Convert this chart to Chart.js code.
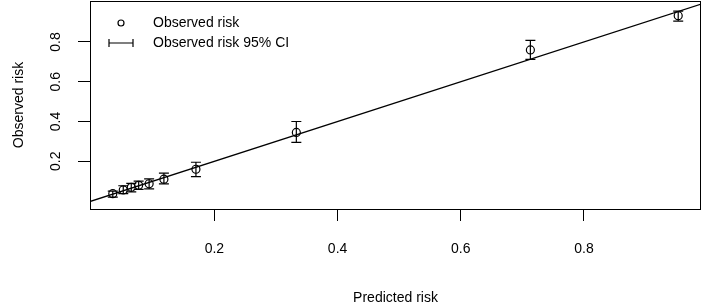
<!DOCTYPE html>
<html>
<head>
<meta charset="utf-8">
<script src="https://cdn.jsdelivr.net/npm/chart.js@4"></script>
<style>
  html, body { margin: 0; padding: 0; background: #fff; }
  #wrap { width: 702px; height: 304px; }
</style>
</head>
<body>
<div id="wrap"><canvas id="calib" width="702" height="304"></canvas></div>
<script>
// calibration data
const predicted = [0.035, 0.052, 0.065, 0.077, 0.094, 0.118, 0.170, 0.333, 0.713, 0.953];
const observed  = [0.037, 0.056, 0.069, 0.079, 0.087, 0.110, 0.160, 0.345, 0.760, 0.932];
const ciLower   = [0.020, 0.037, 0.046, 0.059, 0.061, 0.086, 0.123, 0.295, 0.712, 0.905];
const ciUpper   = [0.050, 0.077, 0.089, 0.100, 0.111, 0.140, 0.195, 0.400, 0.808, 0.955];
const xTicks = [0.2, 0.4, 0.6, 0.8];
const yTicks = [0.2, 0.4, 0.6, 0.8];
const refLine = [-0.1, 1.1];

const FONT = "'Liberation Sans', Arial, sans-serif";

const points = predicted.map((p, i) => ({ x: p, y: observed[i] }));

function noPad(s) {
    s.paddingLeft = 0; s.paddingRight = 0;
    s.paddingTop = 0; s.paddingBottom = 0;
}

const errorBars = {
    id: 'errorBars',
    afterDatasetsDraw(chart) {
        const { ctx, scales: { x, y }, chartArea } = chart;
        ctx.save();
        ctx.strokeStyle = '#000';
        ctx.lineWidth = 1.2;
        predicted.forEach((p, i) => {
            const px = x.getPixelForValue(p);
            const lo = y.getPixelForValue(ciLower[i]);
            const hi = y.getPixelForValue(ciUpper[i]);
            ctx.beginPath();
            ctx.moveTo(px, lo); ctx.lineTo(px, hi);
            ctx.moveTo(px - 5, lo); ctx.lineTo(px + 5, lo);
            ctx.moveTo(px - 5, hi); ctx.lineTo(px + 5, hi);
            ctx.stroke();
        });
        // box around the plot
        ctx.lineWidth = 1;
        ctx.strokeRect(Math.round(chartArea.left) + 0.5, Math.round(chartArea.top) + 0.5,
            Math.round(chartArea.right - chartArea.left) - 1, Math.round(chartArea.bottom - chartArea.top));

        // rotated y tick labels
        ctx.fillStyle = '#000';
        ctx.font = '14px ' + FONT;
        ctx.textAlign = 'center';
        ctx.textBaseline = 'middle';
        yTicks.forEach(v => {
            ctx.save();
            ctx.translate(56, y.getPixelForValue(v));
            ctx.rotate(-Math.PI / 2);
            ctx.fillText(v.toFixed(1), 0, 0);
            ctx.restore();
        });

        // legend inside the plot
        const lx = chartArea.left + 31, ly1 = chartArea.top + 22, ly2 = chartArea.top + 42;
        ctx.lineWidth = 1.2;
        ctx.beginPath();
        ctx.arc(lx, ly1, 3, 0, Math.PI * 2);
        ctx.stroke();
        ctx.beginPath();
        ctx.moveTo(lx - 12, ly2); ctx.lineTo(lx + 12, ly2);
        ctx.moveTo(lx - 12, ly2 - 4); ctx.lineTo(lx - 12, ly2 + 4);
        ctx.moveTo(lx + 12, ly2 - 4); ctx.lineTo(lx + 12, ly2 + 4);
        ctx.stroke();
        ctx.textAlign = 'left';
        ctx.fillText('Observed risk', chartArea.left + 63, ly1);
        ctx.fillText('Observed risk 95% CI', chartArea.left + 63, ly2);
        ctx.restore();
    }
};

new Chart(document.getElementById('calib'), {
    type: 'scatter',
    data: {
        datasets: [
            {
                label: 'Observed risk',
                data: points,
                pointStyle: 'circle',
                pointRadius: 4,
                borderColor: '#000',
                backgroundColor: 'rgba(0,0,0,0)',
                borderWidth: 1.2
            },
            {
                type: 'line',
                label: 'Reference',
                data: refLine.map(v => ({ x: v, y: v })),
                borderColor: '#000',
                borderWidth: 1.3,
                pointRadius: 0,
                fill: false
            }
        ]
    },
    options: {
        responsive: false,
        animation: false,
        layout: { autoPadding: false, padding: { top: 1, right: 1, left: 0, bottom: 0 } },
        plugins: { legend: { display: false }, tooltip: { enabled: false } },
        scales: {
            x: {
                type: 'linear',
                min: -0.002,
                max: 0.99,
                afterBuildTicks: s => { s.ticks = xTicks.map(v => ({ value: v })); },
                afterFit: s => { s.height = 95; noPad(s); },
                border: { display: false },
                grid: { drawOnChartArea: false, drawTicks: true, tickLength: 12, color: '#000' },
                ticks: {
                    color: '#000',
                    padding: 20,
                    font: { family: FONT, size: 14 },
                    callback: v => v.toFixed(1),
                    maxRotation: 0
                },
                title: {
                    display: true,
                    text: 'Predicted risk',
                    color: '#000',
                    font: { family: FONT, size: 14 },
                    padding: { top: 0, bottom: -3 }
                }
            },
            y: {
                type: 'linear',
                min: -0.04,
                max: 1.006,
                afterBuildTicks: s => { s.ticks = yTicks.map(v => ({ value: v })); },
                afterFit: s => { s.width = 90; noPad(s); },
                border: { display: false },
                grid: { drawOnChartArea: false, drawTicks: true, tickLength: 12, color: '#000' },
                ticks: { display: false },
                title: {
                    display: true,
                    text: 'Observed risk',
                    color: '#000',
                    font: { family: FONT, size: 14 },
                    padding: { top: 11, bottom: 0 }
                }
            }
        }
    },
    plugins: [errorBars]
});
</script>
</body>
</html>
